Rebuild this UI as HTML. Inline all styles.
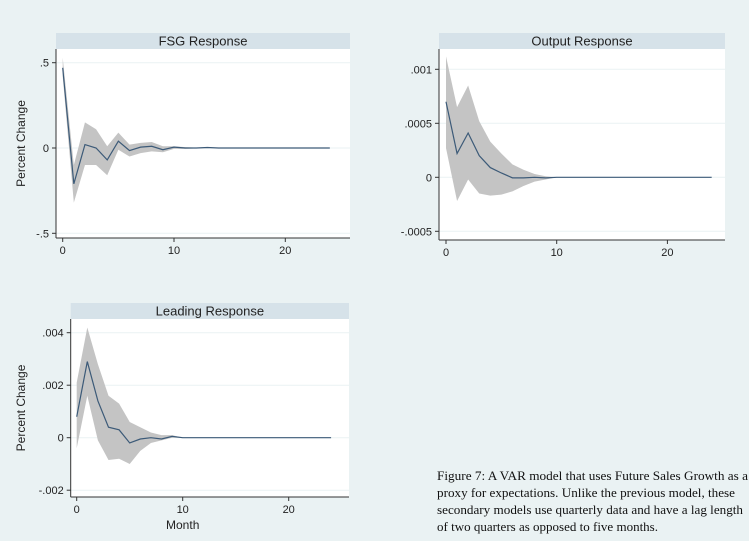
<!DOCTYPE html><html><head><style>body{margin:0;background:#eaf2f3;}svg{display:block}</style></head><body>
<svg id="s" width="749" height="541" xmlns="http://www.w3.org/2000/svg" font-family="Liberation Sans, Arial, sans-serif">
<rect width="749" height="541" fill="#eaf2f3"/>
<g font-family="Liberation Serif, serif" font-size="13" fill="#111">
<text x="437" y="480" textLength="311" lengthAdjust="spacingAndGlyphs">Figure 7: A VAR model that uses Future Sales Growth as a</text>
<text x="437" y="497" textLength="298" lengthAdjust="spacingAndGlyphs">proxy for expectations.  Unlike the previous model, these</text>
<text x="437" y="514" textLength="306" lengthAdjust="spacingAndGlyphs">secondary models use quarterly data and have a lag length</text>
<text x="437" y="531" textLength="221" lengthAdjust="spacingAndGlyphs">of two quarters as opposed to five months.</text>
</g>
</svg>
<script>
const S=document.getElementById('s');const NS='http://www.w3.org/2000/svg';
function el(t,a,txt){const e=document.createElementNS(NS,t);for(const k in a)e.setAttribute(k,a[k]);if(txt!==undefined)e.textContent=txt;S.appendChild(e);return e;}
function pad(a){while(a.length<25)a.push(0);return a;}
function panel(p){
 const {L,R,T,hT,B,ax,x0,x10,ticks,title,mean,up,lo,ylab,xlab}=p;
 el('rect',{x:L,y:hT,width:R-L,height:T-hT,fill:'#d6e2e9'});
 el('text',{x:(L+R)/2,y:hT+12.5,'text-anchor':'middle','font-size':13,fill:'#222'},title);
 el('rect',{x:L,y:T,width:R-L,height:B-T,fill:'#fff'});
 const sx=(x10-x0)/10;const X=i=>x0+i*sx;
 const [v1,y1,v2,y2]=p.ymap;const Y=v=>y1+(v-v1)*(y2-y1)/(v2-v1);
 ticks.forEach(t=>{const y=Y(t[0]);el('line',{x1:L,x2:R,y1:y,y2:y,stroke:'#eaf2f3','stroke-width':1});
  el('line',{x1:L-4,x2:L,y1:y,y2:y,stroke:'#333'});
  el('text',{x:L-7,y:y+4,'text-anchor':'end','font-size':11,fill:'#222'},t[1]);});
 const U=pad(up),Lo=pad(lo),M=pad(mean);
 let d='M'+U.map((v,i)=>X(i)+','+Y(v)).join('L');
 for(let i=24;i>=0;i--)d+='L'+X(i)+','+Y(Lo[i]);
 el('path',{d:d+'Z',fill:'#c4c4c4'});
 el('path',{d:'M'+M.map((v,i)=>X(i)+','+Y(v)).join('L'),fill:'none',stroke:'#3c5a78','stroke-width':1.2});
 el('line',{x1:L,x2:L,y1:T,y2:B,stroke:'#333'});
 el('line',{x1:L,x2:R,y1:B,y2:B,stroke:'#333'});
 [0,10,20].forEach(i=>{el('line',{x1:X(i),x2:X(i),y1:B,y2:B+4,stroke:'#333'});
  el('text',{x:X(i),y:B+16,'text-anchor':'middle','font-size':11,fill:'#222'},i);});
 if(ylab){const cy=(T+B)/2;el('text',{x:ylab,y:cy,'text-anchor':'middle','font-size':12,fill:'#222',transform:`rotate(-90 ${ylab} ${cy})`},'Percent Change');}
 if(xlab)el('text',{x:X(10),y:xlab,'text-anchor':'middle','font-size':12,fill:'#222'},'Month');
}
panel({L:56,R:350,hT:33,T:49,B:238,x0:62.7,x10:174,ymap:[.5,62.7,0,148],title:'FSG Response',ylab:25,
 ticks:[[.5,'.5'],[0,'0'],[-.5,'-.5']],
 mean:[.47,-.21,.02,0,-.07,.04,-.015,.005,.01,-.01,.005,0,0,.003],
 up:[.53,-.1,.15,.11,.01,.09,.02,.03,.035,.01,.01,.005,.002,.004],
 lo:[.42,-.32,-.1,-.1,-.16,-.01,-.05,-.03,-.02,-.025,-.005,-.005,-.002,0]});
panel({L:439,R:725,hT:33,T:49,B:240,x0:446,x10:556.7,ymap:[.001,69.3,0,177.3],title:'Output Response',
 ticks:[[.001,'.001'],[.0005,'.0005'],[0,'0'],[-.0005,'-.0005']],
 mean:[.0007,.00022,.00041,.0002,.00009,.00004,-.000005,-.000005,0,-.000005,0],
 up:[.00112,.00065,.00085,.00052,.00033,.00022,.00012,.00007,.00003,.00001,0],
 lo:[.00027,-.00022,-.00002,-.00015,-.00017,-.00016,-.00013,-.00008,-.00004,-.00002,0]});
panel({L:70.7,R:349,hT:303,T:319,B:497,x0:76.7,x10:182.7,ymap:[.004,332.7,0,437.7],title:'Leading Response',ylab:25,xlab:529,
 ticks:[[.004,'.004'],[.002,'.002'],[0,'0'],[-.002,'-.002']],
 mean:[.0008,.0029,.0014,.0004,.0003,-.0002,-.00005,0,-.00005,.00005,0],
 up:[.0021,.0042,.0028,.0016,.0013,.0006,.0004,.0002,.0001,.0001,0],
 lo:[-.0004,.0016,-.0001,-.00085,-.0008,-.001,-.0005,-.0002,-.0001,0,0]});
</script></body></html>
